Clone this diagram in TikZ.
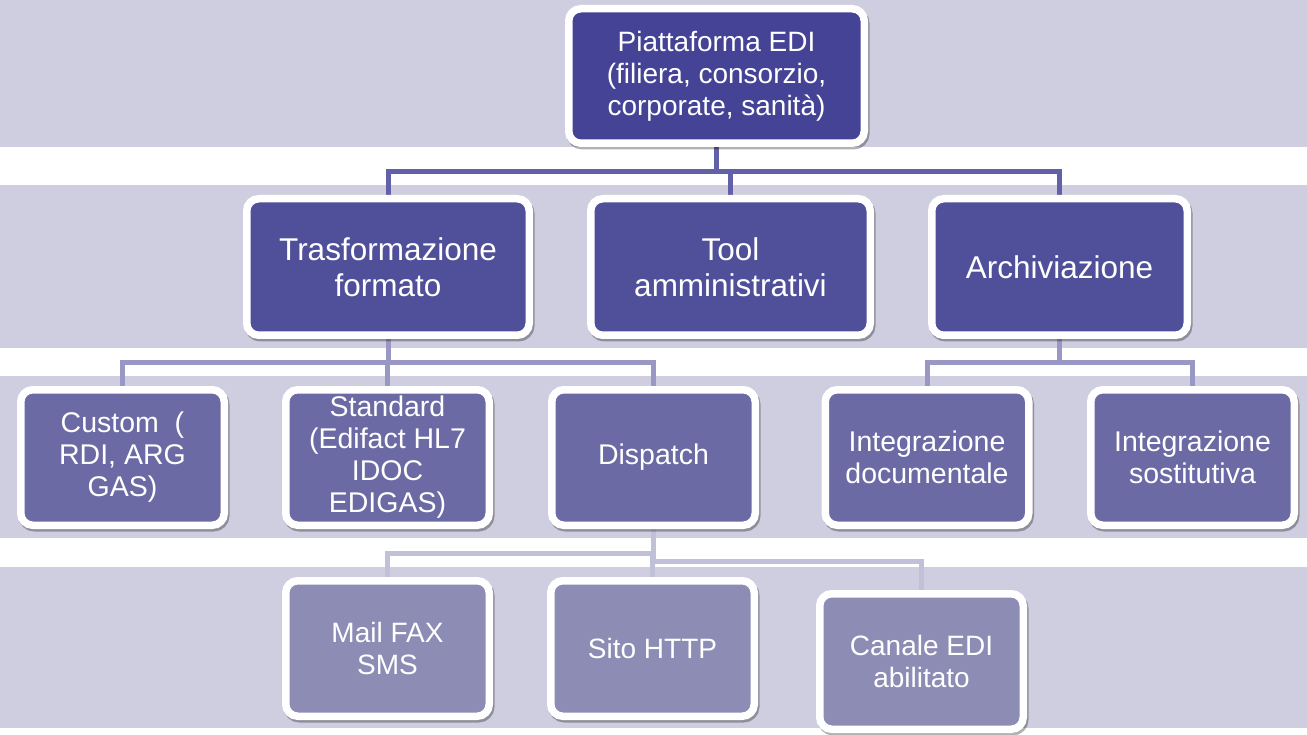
\documentclass[tikz,border=0pt]{standalone}
\usepackage{fontspec}
\setmainfont{Liberation Sans}
\usetikzlibrary{shadows}
\definecolor{band}{RGB}{206,206,224}
\definecolor{cA}{RGB}{69,67,150}
\definecolor{cB}{RGB}{80,79,153}
\definecolor{cC}{RGB}{107,106,164}
\definecolor{cD}{RGB}{141,140,181}
\definecolor{lA}{RGB}{98,97,167}
\definecolor{lB}{RGB}{153,152,196}
\definecolor{lC}{RGB}{192,192,217}
\pgfdeclarelayer{bg}
\pgfsetlayers{bg,main}
\tikzset{
  box/.style={draw=white, line width=7.5pt, rounded corners=12pt, text=white,
    align=center, inner sep=0pt,
    drop shadow={shadow xshift=1.5pt, shadow yshift=-2.5pt, opacity=0.3,
      fill=black, draw=black, line width=7.5pt}},
  boxA/.style={box, fill=cA, font=\fontsize{28}{32}\selectfont,
    minimum width=295.5pt, minimum height=134.5pt},
  boxB/.style={box, fill=cB, font=\fontsize{31.5}{36}\selectfont,
    minimum height=136.5pt},
  boxC/.style={box, fill=cC, font=\fontsize{28.5}{32}\selectfont,
    minimum width=203.5pt, minimum height=135.5pt},
  boxD/.style={box, fill=cD, font=\fontsize{28}{32}\selectfont,
    minimum width=203.5pt, minimum height=135.5pt},
  conA/.style={draw=lA, line width=5pt},
  conB/.style={draw=lB, line width=5pt},
  conC/.style={draw=lC, line width=5pt},
}
\begin{document}
\begin{tikzpicture}[x=1pt,y=-1pt]
\useasboundingbox (0,0) rectangle (1307,735);
% nodes
\node[boxA] (top) at (716.5,76) {Piattaforma EDI\\(filiera, consorzio,\\corporate, sanità)};
\node[boxB, minimum width=282.5pt] (tras) at (388,267) {Trasformazione\\formato};
\node[boxB, minimum width=279.5pt] (tool) at (730.5,267) {Tool\\amministrativi};
\node[boxB, minimum width=255.5pt] (arch) at (1059.5,267) {Archiviazione};
\node[boxC] (custom) at (122.5,457.5) {Custom~~(\\RDI, ARG\\GAS)};
\node[boxC] (std) at (387.5,457.5) {Standard\\(Edifact HL7\\IDOC\\EDIGAS)};
\node[boxC] (disp) at (653.5,457.5) {Dispatch};
\node[boxC] (doc) at (927,457.5) {Integrazione\\documentale};
\node[boxC] (sost) at (1192.5,457.5) {Integrazione\\sostitutiva};
\node[boxD] (mail) at (387.5,648.5) {Mail FAX\\SMS};
\node[boxD] (sito) at (652.5,648.5) {Sito HTTP};
\node[boxD] (canale) at (921.5,661.5) {Canale EDI\\abilitato};
\begin{pgfonlayer}{bg}
\fill[white] (0,0) rectangle (1307,735);
\fill[band] (0,0) rectangle (1307,147);
\fill[band] (0,185) rectangle (1307,348);
\fill[band] (0,376) rectangle (1307,538);
\fill[band] (0,567) rectangle (1307,728);
% connectors
\draw[conA] (top.south) -- ++(0,25) -| (tras.north);
\draw[conA] (top.south) -- ++(0,25) -| (tool.north);
\draw[conA] (top.south) -- ++(0,25) -| (arch.north);
\draw[conB] (tras.south) -- ++(0,24) -| (custom.north);
\draw[conB] (tras.south) -- ++(0,24) -| (std.north);
\draw[conB] (tras.south) -- ++(0,24) -| (disp.north);
\draw[conB] (arch.south) -- ++(0,24) -| (doc.north);
\draw[conB] (arch.south) -- ++(0,24) -| (sost.north);
\draw[conC] (disp.south) -- ++(0,24) -| (mail.north);
\draw[conC] (disp.south) -- ++(0,24) -| (sito.north);
\draw[conC] (disp.south) -- ++(0,32) -| (canale.north);
\end{pgfonlayer}
\end{tikzpicture}
\end{document}
